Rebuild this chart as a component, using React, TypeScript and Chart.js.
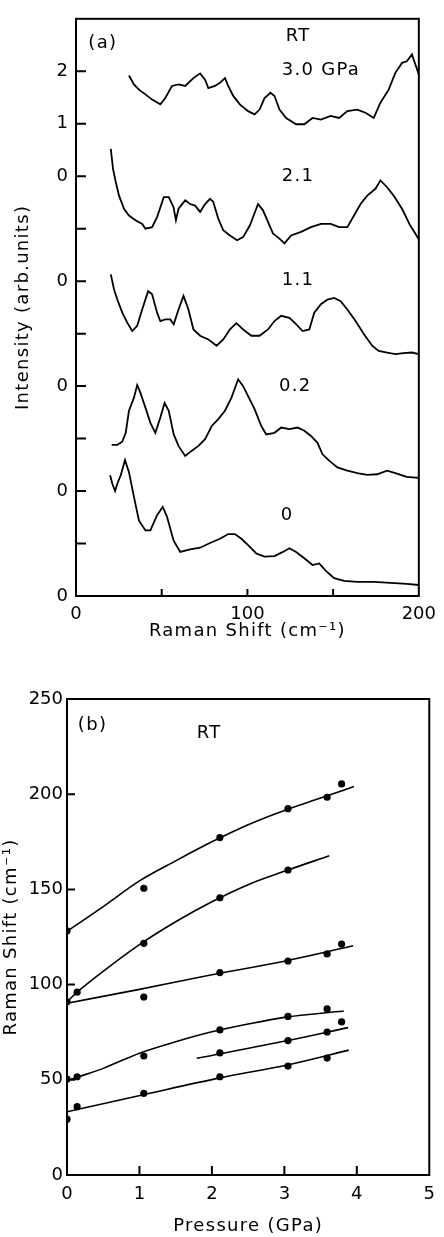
import { useEffect, useRef } from 'react';
import { Chart, registerables } from 'chart.js';

Chart.register(...registerables);

const FONT = '"DejaVu Sans", sans-serif';
const INK = '#000';

// ---------- Panel (a): Raman spectra (relative intensity, offset per pressure) ----------
const spectrumLabels = ['3.0 GPa', '2.1', '1.1', '0.2', '0'];
const spectrumOffsets = [8, 6, 4, 2, 0];

const shift30 = [30.9, 33.8, 36.7, 40.5, 44.4, 49.2, 52.1, 56, 59.8, 63.7, 68.5, 72.4, 75.3, 77.2, 81, 84, 86.9, 88.8, 91.7, 95.6, 100.4, 104.2, 107.1, 110, 113.5, 115.8, 118.7, 122.6, 128.4, 133.2, 138, 142.9, 148.6, 153.5, 158.3, 164.1, 168.9, 173.7, 177.6, 182.4, 186.3, 190.2, 193, 196, 198, 200];
const int30 = [1.92, 1.75, 1.65, 1.56, 1.46, 1.37, 1.49, 1.72, 1.75, 1.72, 1.87, 1.96, 1.84, 1.68, 1.72, 1.78, 1.87, 1.72, 1.53, 1.37, 1.24, 1.18, 1.27, 1.49, 1.59, 1.53, 1.27, 1.11, 0.99, 0.99, 1.11, 1.08, 1.15, 1.11, 1.24, 1.27, 1.21, 1.11, 1.4, 1.65, 1.97, 2.16, 2.19, 2.32, 2.13, 1.94];

const shift21 = [20.3, 21.6, 23.2, 25.1, 28, 30.9, 34.7, 38.6, 40.5, 44.4, 47.3, 51.2, 54.1, 56.9, 58.3, 59.8, 63.7, 66.6, 69.5, 72.4, 75.3, 78.2, 80.1, 83, 85.9, 89.8, 94, 97.5, 101.4, 106.2, 109.1, 112, 114.9, 118.7, 121.6, 125.5, 131.3, 137.1, 142.9, 148.6, 153.5, 158.3, 162.2, 166, 169.9, 174.7, 177.6, 181.5, 185.3, 190.2, 195, 200];
const int21 = [2.52, 2.14, 1.89, 1.63, 1.38, 1.25, 1.16, 1.09, 1.0, 1.03, 1.22, 1.6, 1.6, 1.41, 1.16, 1.38, 1.54, 1.47, 1.44, 1.32, 1.47, 1.57, 1.51, 1.19, 0.97, 0.87, 0.78, 0.84, 1.06, 1.47, 1.35, 1.13, 0.91, 0.81, 0.72, 0.87, 0.94, 1.03, 1.09, 1.09, 1.03, 1.03, 1.25, 1.47, 1.63, 1.76, 1.92, 1.79, 1.63, 1.38, 1.06, 0.8];

const shift11 = [20.3, 22.2, 24.1, 27, 29.9, 32.8, 35.7, 38.6, 42.1, 44.4, 47.3, 49.2, 52.1, 55, 57, 59.8, 62.7, 65.6, 68.5, 72.4, 77.2, 82, 85.9, 89.8, 93.6, 97.5, 102.3, 107.1, 112, 115.8, 119.7, 124.5, 128.4, 132.2, 136.1, 139, 142.9, 146.7, 150.6, 154.4, 158.3, 163.1, 168, 172.8, 176.6, 181.5, 186.3, 191.1, 196, 200];
const int11 = [2.13, 1.84, 1.65, 1.4, 1.21, 1.05, 1.15, 1.46, 1.81, 1.75, 1.4, 1.24, 1.27, 1.27, 1.18, 1.46, 1.72, 1.46, 1.08, 0.96, 0.89, 0.77, 0.89, 1.08, 1.2, 1.08, 0.96, 0.96, 1.08, 1.24, 1.34, 1.3, 1.18, 1.05, 1.08, 1.4, 1.56, 1.65, 1.68, 1.62, 1.46, 1.24, 0.99, 0.77, 0.67, 0.64, 0.61, 0.63, 0.64, 0.61];

const shift02 = [20.8, 24.1, 27, 29, 30.9, 33.8, 35.7, 37.6, 40.5, 43.4, 46.3, 49.2, 51.7, 54.1, 57, 59.8, 63.7, 67.6, 71.4, 75.3, 79.2, 83, 86.9, 90.7, 94.6, 97.5, 100.4, 104.2, 108.1, 111, 115.8, 119.7, 124.5, 129.3, 133.2, 137.1, 140.9, 143.8, 147.7, 152.5, 158.3, 164.1, 169.9, 175.7, 181.5, 186.3, 193, 200];
const int02 = [0.88, 0.88, 0.94, 1.11, 1.53, 1.78, 2.02, 1.87, 1.59, 1.3, 1.11, 1.4, 1.68, 1.53, 1.08, 0.86, 0.67, 0.77, 0.86, 0.99, 1.24, 1.37, 1.53, 1.78, 2.13, 2.0, 1.81, 1.56, 1.24, 1.08, 1.11, 1.21, 1.18, 1.21, 1.15, 1.05, 0.92, 0.7, 0.58, 0.45, 0.39, 0.34, 0.31, 0.32, 0.39, 0.34, 0.27, 0.25];

const shift00 = [19.9, 21.2, 22.8, 24.1, 26.1, 28.6, 30.9, 33.8, 36.7, 40.5, 43.4, 47.3, 50.6, 53.1, 56.9, 60.8, 66.6, 72.4, 78.2, 84, 88.8, 92.7, 96.5, 100.4, 105.2, 110, 115.8, 120.7, 124.5, 128.4, 133.2, 138, 141.9, 145.8, 150.6, 156.4, 164.1, 173.7, 183.4, 193, 200];
const int00 = [2.3, 2.14, 2.0, 2.14, 2.3, 2.59, 2.36, 1.89, 1.44, 1.25, 1.25, 1.54, 1.7, 1.51, 1.06, 0.84, 0.89, 0.92, 1.01, 1.09, 1.18, 1.18, 1.09, 0.97, 0.81, 0.75, 0.76, 0.84, 0.91, 0.84, 0.72, 0.59, 0.62, 0.48, 0.34, 0.29, 0.27, 0.27, 0.25, 0.23, 0.21];

const spectrumShifts = [shift30, shift21, shift11, shift02, shift00];
const spectrumIntensities = [int30, int21, int11, int02, int00];

const intensityTickValues = [0, 1, 2, 3, 4, 5, 6, 7, 8, 9, 10];
const intensityTickLabels = ['0', '', '0', '', '0', '', '0', '', '0', '1', '2'];
const shiftTickValuesA = [0, 50, 100, 150, 200];
const shiftTickLabelsA = ['0', '', '100', '', '200'];

// annotation anchors in data units (panel a)
const annotA = [
  { text: '(a)', x: 7.2, y: 10.53 },
  { text: 'RT', x: 122.4, y: 10.66 },
  { text: spectrumLabels[0], x: 120, y: 10.01 },
  { text: spectrumLabels[1], x: 120, y: 8.0 },
  { text: spectrumLabels[2], x: 120, y: 6.01 },
  { text: spectrumLabels[3], x: 118.4, y: 3.99 },
  { text: spectrumLabels[4], x: 119.5, y: 1.54 },
];

// ---------- Panel (b): Raman shift vs pressure ----------
const pointPressure = [0, 1.06, 2.11, 3.05, 3.59, 3.79, 0.14, 1.06, 2.11, 3.05, 0, 1.06, 2.11, 3.05, 3.59, 3.79, 0, 0.14, 1.06, 2.11, 3.05, 3.59, 3.79, 2.11, 3.05, 3.59, 0, 0.14, 1.06, 2.11, 3.05, 3.59];
const pointShift = [128.2, 150.6, 177.2, 192.4, 198.4, 205.4, 96, 121.7, 145.6, 160.2, 91, 93.5, 106.3, 112.4, 116.1, 121.3, 50.4, 51.6, 62.5, 76.2, 83.3, 87.2, 80.4, 64.1, 70.6, 75.1, 29.3, 35.9, 42.9, 51.6, 57.2, 61.4];

const fit1P = [0, 0.5, 1, 1.5, 2, 2.5, 3, 3.5, 3.96];
const fit1R = [128, 141, 154.5, 165, 175, 184, 191.5, 198, 204];
const fit2P = [0, 0.14, 0.5, 1, 1.5, 2, 2.5, 3, 3.62];
const fit2R = [91, 96, 107, 121, 133, 143.5, 152.5, 159.5, 167.7];
const fit3P = [0, 1, 2, 3, 3.95];
const fit3R = [90.2, 97.5, 105.2, 112.3, 120.4];
const fit4P = [0, 0.14, 0.5, 1, 1.5, 2, 2.5, 3, 3.82];
const fit4R = [49.5, 51.3, 56, 64, 70, 75.2, 79.3, 82.8, 86.1];
const fit5P = [1.79, 3.05, 3.88];
const fit5R = [61.3, 70.6, 77.4];
const fit6P = [0, 1.07, 2.11, 3.04, 3.89];
const fit6R = [33.2, 42.3, 51, 57.8, 65.6];

const fitPressures = [fit1P, fit2P, fit3P, fit4P, fit5P, fit6P];
const fitShifts = [fit1R, fit2R, fit3R, fit4R, fit5R, fit6R];

const annotB = [
  { text: '(b)', x: 0.15, y: 236.3 },
  { text: 'RT', x: 1.79, y: 232 },
];

// ---------- helpers ----------
const zip = (xs: number[], ys: number[], off = 0) => xs.map((x, i) => ({ x, y: ys[i] + off }));

const spacingPlugin = {
  id: 'spacing',
  beforeDraw(chart: any) { chart.ctx.letterSpacing = '1.3px'; },
  beforeDatasetsDraw(chart: any) { chart.ctx.letterSpacing = '0px'; },
};

function framePlugin(xInner: number[], yInner: number[], tickLenX: number, tickLenY: number, notes: { text: string; x: number; y: number }[]) {
  return {
    id: 'frame',
    afterDraw(chart: any) {
      const { ctx, chartArea: a, scales } = chart;
      const xs = scales.x, ys = scales.y;
      ctx.save();
      ctx.strokeStyle = INK;
      ctx.lineWidth = 2;
      ctx.strokeRect(a.left, a.top, a.right - a.left, a.bottom - a.top);
      ctx.beginPath();
      xInner.forEach((v) => {
        const px = xs.getPixelForValue(v);
        ctx.moveTo(px, a.bottom);
        ctx.lineTo(px, a.bottom - tickLenX);
      });
      yInner.forEach((v) => {
        const py = ys.getPixelForValue(v);
        ctx.moveTo(a.left, py);
        ctx.lineTo(a.left + tickLenY, py);
      });
      ctx.stroke();
      ctx.fillStyle = INK;
      ctx.font = `18px ${FONT}`;
      ctx.letterSpacing = '1.3px';
      ctx.textAlign = 'left';
      ctx.textBaseline = 'middle';
      notes.forEach((n) => ctx.fillText(n.text, xs.getPixelForValue(n.x), ys.getPixelForValue(n.y)));
      ctx.restore();
    },
  };
}

const tickFont = { family: FONT, size: 18 };
const titleFont = { family: FONT, size: 18 };

function configA(): any {
  return {
    type: 'scatter',
    data: {
      datasets: spectrumShifts.map((xs, i) => ({
        data: zip(xs, spectrumIntensities[i], spectrumOffsets[i]),
        showLine: true,
        borderColor: INK,
        borderWidth: 1.8,
        pointRadius: 0,
        tension: 0,
      })),
    },
    options: {
      animation: false,
      responsive: true,
      maintainAspectRatio: false,
      events: [],
      layout: { padding: { left: 0, right: 22, top: 16, bottom: 0 } },
      plugins: { legend: { display: false }, tooltip: { enabled: false } },
      scales: {
        x: {
          type: 'linear', min: 0, max: 200,
          grid: { display: false, drawTicks: false }, border: { display: false },
          afterBuildTicks: (s: any) => { s.ticks = shiftTickValuesA.map((v) => ({ value: v })); },
          ticks: { autoSkip: false, maxRotation: 0, padding: 8, z: 1, color: INK, font: tickFont,
            callback: (_v: any, i: number) => shiftTickLabelsA[i] },
          title: { display: true, text: 'Raman Shift (cm⁻¹)', color: INK, font: titleFont, padding: { top: 0, bottom: 8 } },
          afterFit: (s: any) => { s.height = 54; },
        },
        y: {
          type: 'linear', min: 0, max: 11,
          grid: { display: false, drawTicks: false }, border: { display: false },
          afterBuildTicks: (s: any) => { s.ticks = intensityTickValues.map((v) => ({ value: v })); },
          ticks: { autoSkip: false, padding: 8, z: 1, color: INK, font: tickFont,
            callback: (_v: any, i: number) => intensityTickLabels[i] },
          title: { display: true, text: 'Intensity (arb.units)', color: INK, font: titleFont, padding: { top: 13, bottom: 0 } },
          afterFit: (s: any) => { s.width = 76; },
        },
      },
    },
    plugins: [spacingPlugin, framePlugin([50, 100, 150], [1, 2, 3, 4, 5, 6, 7, 8, 9, 10], 7, 10, annotA)],
  };
}

function configB(): any {
  const lineSets = fitPressures.map((ps, i) => ({
    data: zip(ps, fitShifts[i]),
    showLine: true,
    borderColor: INK,
    borderWidth: 1.6,
    pointRadius: 0,
    tension: 0.4,
    cubicInterpolationMode: 'monotone',
  }));
  return {
    type: 'scatter',
    data: {
      datasets: [
        ...lineSets,
        { data: zip(pointPressure, pointShift), showLine: false, pointRadius: 3.6, pointBorderWidth: 0, backgroundColor: INK, borderColor: INK },
      ],
    },
    options: {
      animation: false,
      responsive: true,
      maintainAspectRatio: false,
      events: [],
      layout: { padding: { left: 0, right: 5, top: 49, bottom: 0 } },
      plugins: { legend: { display: false }, tooltip: { enabled: false } },
      scales: {
        x: {
          type: 'linear', min: 0, max: 5,
          grid: { display: false, drawTicks: false }, border: { display: false },
          ticks: { stepSize: 1, autoSkip: false, maxRotation: 0, padding: 9, z: 1, color: INK, font: tickFont },
          title: { display: true, text: 'Pressure (GPa)', color: INK, font: titleFont, padding: { top: 0, bottom: 0 } },
          afterFit: (s: any) => { s.height = 62; },
        },
        y: {
          type: 'linear', min: 0, max: 250,
          grid: { display: false, drawTicks: false }, border: { display: false },
          ticks: { stepSize: 50, autoSkip: false, padding: 4, z: 1, color: INK, font: tickFont },
          title: { display: true, text: 'Raman Shift (cm⁻¹)', color: INK, font: titleFont, padding: { top: 1, bottom: 0 } },
          afterFit: (s: any) => { s.width = 67; },
        },
      },
    },
    plugins: [spacingPlugin, framePlugin([1, 2, 3, 4], [50, 100, 150, 200], 9, 8, annotB)],
  };
}

export default function App() {
  const refA = useRef<HTMLCanvasElement>(null);
  const refB = useRef<HTMLCanvasElement>(null);
  useEffect(() => {
    const a = new Chart(refA.current as HTMLCanvasElement, configA());
    const b = new Chart(refB.current as HTMLCanvasElement, configB());
    return () => { a.destroy(); b.destroy(); };
  }, []);
  return (
    <div style={{ position: 'absolute', left: 0, top: 0, width: 444, height: 1237, background: '#fff' }}>
      <div style={{ position: 'absolute', left: 0, top: 0, width: 444, height: 650 }}>
        <canvas ref={refA} />
      </div>
      <div style={{ position: 'absolute', left: 0, top: 650, width: 444, height: 587 }}>
        <canvas ref={refB} />
      </div>
    </div>
  );
}
